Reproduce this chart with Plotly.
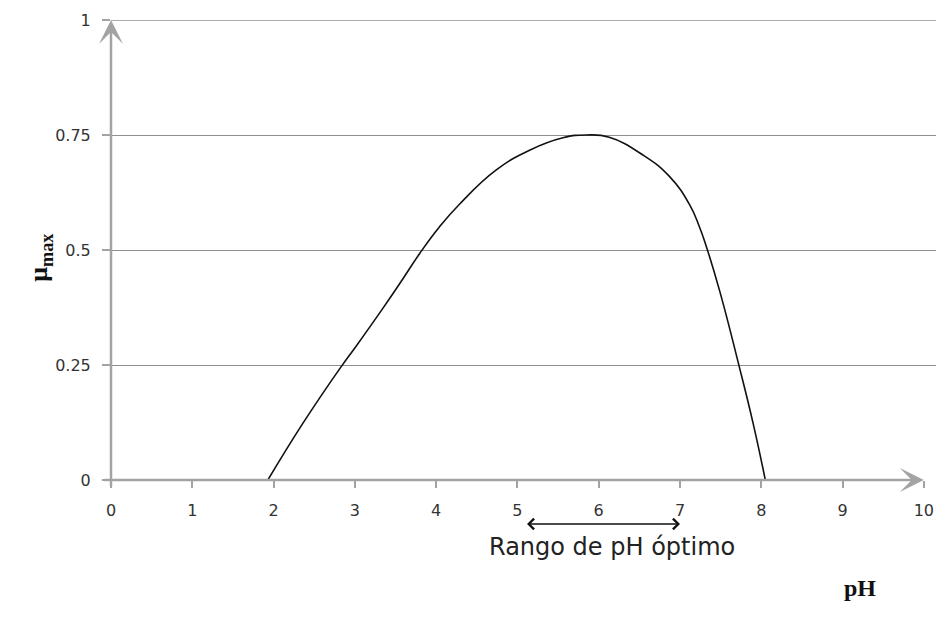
import plotly.graph_objects as go

# data
ph = [1.93, 2.36, 2.83, 3.02, 3.34, 3.59, 3.80, 4.04, 4.29, 4.74, 5.15, 5.56, 5.85,
      6.13, 6.54, 6.87, 7.12, 7.24, 7.32, 7.49, 7.73, 7.90, 8.05]
mu = [0.0, 0.123, 0.246, 0.292, 0.372, 0.437, 0.493, 0.550, 0.600, 0.674, 0.717, 0.744, 0.750,
      0.745, 0.707, 0.660, 0.598, 0.550, 0.510, 0.410, 0.246, 0.123, 0.0]
x_ticks = [0, 1, 2, 3, 4, 5, 6, 7, 8, 9, 10]
y_ticks = [0, 0.25, 0.5, 0.75, 1]
y_ticklabels = ["0", "0.25", "0.5", "0.75", "1"]
optimal_range = [5.1, 7.0]

AX = "#a3a3a3"
GRID = "#8f8f8f"
TICKFONT = dict(family="DejaVu Sans", size=16, color="#333333")

fig = go.Figure()
fig.add_trace(go.Scatter(x=ph, y=mu, mode="lines",
                         line=dict(color="#111111", width=1.6, shape="spline", smoothing=1.3),
                         showlegend=False, hoverinfo="skip"))

fig.update_layout(
    width=936, height=617,
    margin=dict(l=111, r=0, t=20, b=137),
    plot_bgcolor="white", paper_bgcolor="white",
    xaxis=dict(range=[0, 10.15], tickvals=x_ticks, ticktext=[str(v) for v in x_ticks],
               showgrid=False, zeroline=False, showline=False,
               ticks="outside", ticklen=7, tickwidth=1.5, tickcolor=AX,
               tickfont=TICKFONT, ticklabelstandoff=9),
    yaxis=dict(range=[0, 1], tickvals=y_ticks, ticktext=y_ticklabels,
               showgrid=True, gridcolor=GRID, gridwidth=1.3, zeroline=False, showline=False,
               ticks="outside", ticklen=8, tickwidth=1.5, tickcolor=AX,
               tickfont=TICKFONT, ticklabelstandoff=8),
)

# top gridline (at the edge of the range)
fig.add_shape(type="line", xref="paper", yref="y", x0=0, x1=1, y0=y_ticks[-1], y1=y_ticks[-1],
              line=dict(color=GRID, width=1.3), layer="below")

# axis arrows
fig.add_annotation(x=10, y=0, ax=-0.1, ay=0, xref="x", yref="y", axref="x", ayref="y",
                   text="", showarrow=True, arrowhead=3, arrowsize=1.6, arrowwidth=2.5,
                   arrowcolor=AX)
fig.add_annotation(x=0, y=1, ax=0, ay=-0.017, xref="x", yref="y", axref="x", ayref="y",
                   text="", showarrow=True, arrowhead=3, arrowsize=1.6, arrowwidth=2.5,
                   arrowcolor=AX)

# optimal range double arrow
fig.add_annotation(x=optimal_range[1], y=-0.0957, ax=optimal_range[0], ay=0,
                   xref="x", yref="paper", axref="x", ayref="pixel",
                   text="", showarrow=True, arrowside="end+start",
                   arrowhead=4, startarrowhead=4, arrowsize=1.3, startarrowsize=1.3,
                   arrowwidth=1.6, arrowcolor="#111111")
fig.add_annotation(x=6.16, y=-0.18, xref="x", yref="paper", text="Rango de pH óptimo",
                   showarrow=False, font=dict(family="DejaVu Sans", size=24, color="#222222"))

# axis titles
fig.add_annotation(x=-0.108, y=0.483, xref="paper", yref="paper",
                   text="<b>μ<sub>max</sub></b>", textangle=-90, showarrow=False,
                   font=dict(family="Liberation Serif", size=26, color="#111111"))
fig.add_annotation(x=0.93, y=-0.267, xref="paper", yref="paper", text="<b>pH</b>",
                   showarrow=False,
                   font=dict(family="Liberation Serif", size=24, color="#111111"))

fig.write_html("out.html", config={"displayModeBar": False},
               post_script="document.body.style.margin='0';")
